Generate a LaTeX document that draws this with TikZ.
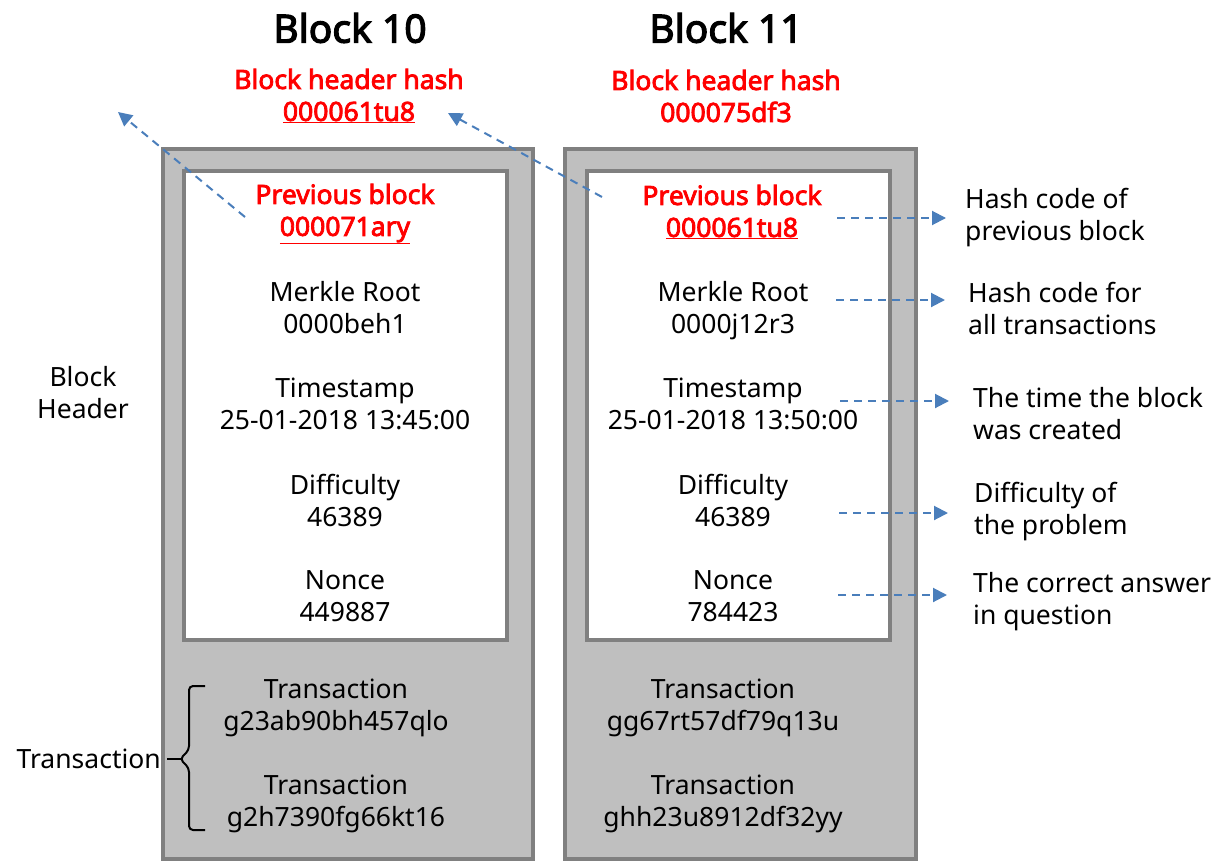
\documentclass[tikz,border=0pt]{standalone}
\usepackage{fontspec}
\setmainfont{Noto Sans}
\newfontfamily\heavyfont{Noto Sans}[FakeBold=3]
\usetikzlibrary{arrows.meta}
\definecolor{boxgray}{HTML}{BFBFBF}
\definecolor{edgegray}{HTML}{808080}
\definecolor{arrowblue}{HTML}{4A7EBB}
\begin{document}
\begin{tikzpicture}[x=1pt,y=-1pt,
  body/.style={font=\fontsize{26.5}{32}\selectfont, align=center, inner sep=0pt},
  redbold/.style={font=\fontsize{26.5}{32}\selectfont\heavyfont, text=red, align=center, inner sep=0pt},
  titletext/.style={font=\fontsize{39}{44}\selectfont\heavyfont, inner sep=0pt},
  outerbox/.style={draw=edgegray, fill=boxgray, line width=4pt},
  innerbox/.style={draw=edgegray, fill=white, line width=4pt},
  link/.style={draw=arrowblue, line width=2pt, dash pattern=on 8pt off 6pt, -{Triangle[length=14pt,width=14pt]}},
  note/.style={font=\fontsize{26.5}{32}\selectfont, align=left, anchor=west, inner sep=0pt},
  bracestyle/.style={draw=black, line width=2pt, rounded corners=4pt}]
\useasboundingbox (0,0) rectangle (1214,861);

% boxes
\draw[outerbox] (163,149) rectangle (533,859);
\draw[outerbox] (565,149) rectangle (916,859);
\draw[innerbox] (184,171) rectangle (507,640);
\draw[innerbox] (587,171) rectangle (890,640);

% titles
\node[titletext] (t10) at (350,28) {Block 10};
\node[titletext] (t11) at (726,28) {Block 11};
\node[redbold] (h10) at (349,96) {Block header hash\\\underline{000061tu8}};
\node[redbold] (h11) at (726,96) {Block header hash\\000075df3};

% block 10 contents
\node[redbold] (p10) at (345,214) {Previous block\\\underline{000071ary}};
\node[body] (m10) at (345,308) {Merkle Root\\0000beh1};
\node[body] (s10) at (345,404) {Timestamp\\25-01-2018 13:45:00};
\node[body] (d10) at (345,500) {Difficulty\\46389};
\node[body] (n10) at (345,596) {Nonce\\449887};
\node[body] (x10a) at (336,708) {Transaction\\g23ab90bh457qlo};
\node[body] (x10b) at (336,804) {Transaction\\g2h7390fg66kt16};

% block 11 contents
\node[redbold] (p11) at (732,212) {Previous block\\\underline{000061tu8}};
\node[body] (m11) at (733,311) {Merkle Root\\0000j12r3};
\node[body] (s11) at (733,404) {Timestamp\\25-01-2018 13:50:00};
\node[body] (d11) at (733,500) {Difficulty\\46389};
\node[body] (n11) at (733,596) {Nonce\\784423};
\node[body] (x11a) at (723,708) {Transaction\\gg67rt57df79q13u};
\node[body] (x11b) at (723,804) {Transaction\\ghh23u8912df32yy};

% left labels
\node[body] (bh) at (83,393) {Block\\Header};
\node[body, anchor=east] (tx) at (161,759) {Transaction};
\draw[bracestyle] (205,686) -- (189,686) -- (189,750) -- (180,759) -- (189,768) -- (189,830) -- (205,830);
\draw[line width=2pt] (tx.east) ++(6,0) -- (182,759);

% right notes
\node[note] (r1) at (965,218) {Hash code of\\previous block};
\node[note] (r2) at (968,308) {Hash code for\\all transactions};
\node[note] (r3) at (973,414) {The time the block\\was created};
\node[note] (r4) at (974,512) {Difficulty of\\the problem};
\node[note] (r5) at (973,602) {The correct answer\\in question};

% arrows
\coordinate (a1s) at (245,217);
\coordinate (a1e) at (118,112);
\coordinate (a2s) at (602,197);
\coordinate (a2e) at (448,113);
\draw[link] (a1s) -- (a1e);
\draw[link] (a2s) -- (a2e);

\coordinate (b1s) at (837,218);
\coordinate (b1e) at (946,218);
\coordinate (b2s) at (836,300);
\coordinate (b2e) at (945,300);
\coordinate (b3s) at (840,401);
\coordinate (b3e) at (949,401);
\coordinate (b4s) at (839,513);
\coordinate (b4e) at (948,513);
\coordinate (b5s) at (838,595);
\coordinate (b5e) at (947,595);
\draw[link] (b1s) -- (b1e);
\draw[link] (b2s) -- (b2e);
\draw[link] (b3s) -- (b3e);
\draw[link] (b4s) -- (b4e);
\draw[link] (b5s) -- (b5e);
\end{tikzpicture}
\end{document}
